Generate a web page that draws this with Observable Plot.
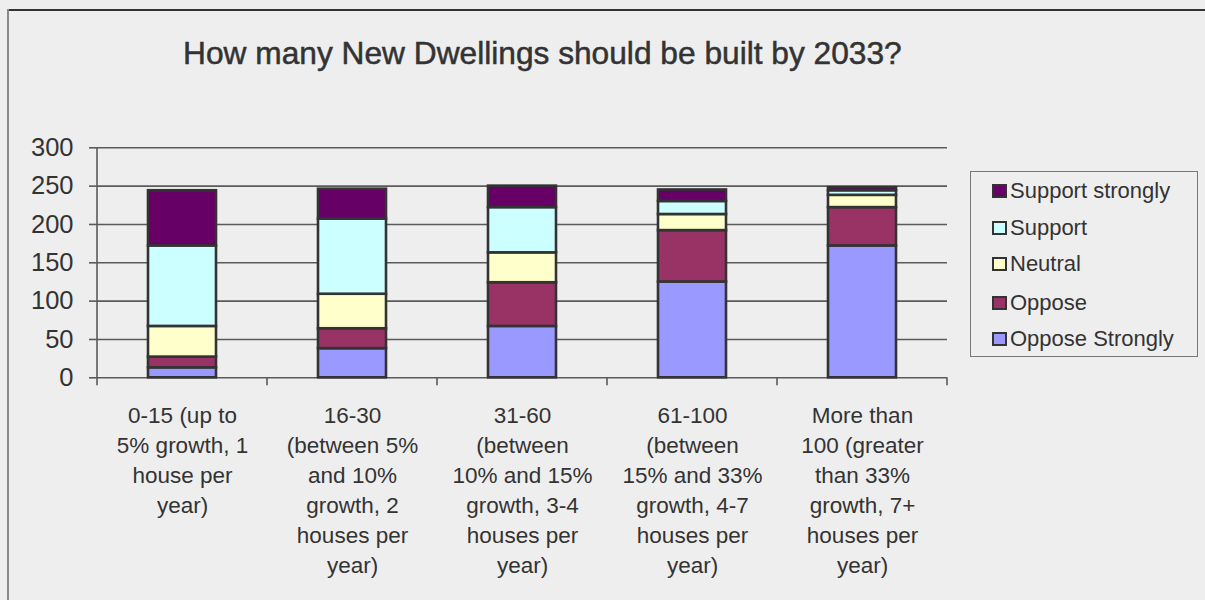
<!DOCTYPE html>
<html>
<head>
<meta charset="utf-8">
<script src="https://cdn.jsdelivr.net/npm/d3@7"></script>
<script src="https://cdn.jsdelivr.net/npm/@observablehq/plot@0.6"></script>
<style>
  html, body { margin: 0; padding: 0; background: #eeeeee; overflow: hidden; }
  #wrap { position: relative; width: 1205px; height: 600px; background: #eeeeee; overflow: hidden;
          font-family: "Liberation Sans", Arial, sans-serif; color: #333; }
  #frame { position: absolute; left: 7px; top: 9px; width: 1198px; height: 591px; overflow: hidden; pointer-events: none; }
  #frame::before { content: ""; position: absolute; left: 0; top: 0; width: 100%; height: 2px; background: #333; }
  #frame::after { content: ""; position: absolute; left: 0; top: 0; width: 2px; height: 100%; background: #8a8a8a; }
  #title { position: absolute; left: 542.4px; top: 37.5px; transform: translateX(-50%); white-space: nowrap;
           font-size: 31.7px; line-height: 31.7px; color: #333; -webkit-text-stroke: 0.5px #333; }
  #chart { position: absolute; left: 0; top: 0; width: 1205px; height: 600px; overflow: hidden; }
  #chart svg { display: block; }
  #legend { position: absolute; left: 970px; top: 170.5px; width: 228px; height: 186px; box-sizing: border-box;
            border: 1px solid #777; background: #eeeeee; }
  .row { position: absolute; left: 0; height: 22px; display: flex; align-items: center; font-size: 22px; white-space: nowrap; }
  .sw { width: 15px; height: 14px; box-sizing: border-box; border: 2px solid #333; margin-left: 21px; margin-right: 3px; }
</style>
</head>
<body>
<div id="wrap">
  <div id="frame"></div>
  <div id="chart"></div>
  <div id="title"></div>
  <div id="legend"></div>
</div>
<script>
const titleText = "How many New Dwellings should be built by 2033?";

const categories = [
  "0-15 (up to 5% growth, 1 house per year)",
  "16-30 (between 5% and 10% growth, 2 houses per year)",
  "31-60 (between 10% and 15% growth, 3-4 houses per year)",
  "61-100 (between 15% and 33% growth, 4-7 houses per year)",
  "More than 100 (greater than 33% growth, 7+ houses per year)"
];
const tickLabels = [
  "0-15 (up to\n5% growth, 1\nhouse per\nyear)",
  "16-30\n(between 5%\nand 10%\ngrowth, 2\nhouses per\nyear)",
  "31-60\n(between\n10% and 15%\ngrowth, 3-4\nhouses per\nyear)",
  "61-100\n(between\n15% and 33%\ngrowth, 4-7\nhouses per\nyear)",
  "More than\n100 (greater\nthan 33%\ngrowth, 7+\nhouses per\nyear)"
];

// series (bottom to top of each stack)
const seriesNames = ["Oppose Strongly", "Oppose", "Neutral", "Support", "Support strongly"];
const seriesColors = ["#9999ff", "#993366", "#ffffcc", "#ccffff", "#660066"];

const opposeStrongly  = [13, 38, 67, 125, 172];
const oppose          = [14, 26, 57, 67, 50];
const neutral         = [40, 45, 39, 21, 16];
const support         = [105, 98, 59, 17, 6];
const supportStrongly = [72, 39, 28, 15, 4];

const yTicks = [0, 50, 100, 150, 200, 250, 300];

const seriesValues = [opposeStrongly, oppose, neutral, support, supportStrongly];
const data = [];
seriesNames.forEach((s, si) => {
  categories.forEach((c, ci) => data.push({cat: c, series: s, value: seriesValues[si][ci]}));
});

const labelOf = new Map(categories.map((c, i) => [c, tickLabels[i]]));
const PAD_INNER = 0.6, PAD_OUTER = 0.3;

const boundaryTicks = (index, scales) => {
  const x = scales.x, y = scales.y;
  const step = x(categories[1]) - x(categories[0]);
  const gap = step * PAD_INNER / 2;
  const bounds = categories.map(c => x(c) - gap);
  bounds.push(x(categories[categories.length - 1]) + step - gap);
  const g = d3.create("svg:g").attr("stroke", "#5a5a5a").attr("stroke-width", 1.6);
  const y0 = y(0);
  bounds.forEach((bx, i) => {
    g.append("line").attr("x1", bx).attr("x2", bx)
      .attr("y1", i === 0 ? y(yTicks[yTicks.length - 1]) : y0)
      .attr("y2", y0 + 8);
  });
  return g.node();
};

const chart = Plot.plot({
  width: 1205,
  height: 600,
  marginLeft: 97,
  marginRight: 258,
  marginTop: 147.3,
  marginBottom: 222.7,
  style: {background: "transparent", color: "#333", fontFamily: "'Liberation Sans', Arial, sans-serif"},
  x: {domain: categories, paddingInner: PAD_INNER, paddingOuter: PAD_OUTER, label: null},
  y: {domain: [0, 300], label: null},
  color: {domain: seriesNames, range: seriesColors},
  marks: [
    Plot.ruleY(yTicks, {stroke: "#5a5a5a", strokeWidth: 1.6}),
    Plot.barY(data, {x: "cat", y: "value", fill: "series", order: seriesNames,
                     stroke: "#333", strokeWidth: 2.6}),
    boundaryTicks,
    Plot.axisY({ticks: yTicks, tickSize: 8, tickPadding: 16, fontSize: 25.5, stroke: "#5a5a5a", strokeWidth: 1.6, label: null}),
    Plot.axisX({tickSize: 0, tickPadding: 24.4, fontSize: 22.5, lineHeight: 1.33,
                tickFormat: d => labelOf.get(d), label: null})
  ]
});
document.getElementById("chart").appendChild(chart);
document.getElementById("title").textContent = titleText;

// legend (top to bottom reverses stack order)
const legend = document.getElementById("legend");
const rowCenters = [19.5, 56.2, 92.8, 131.2, 167.8];
[...seriesNames].reverse().forEach((s, i) => {
  const idx = seriesNames.indexOf(s);
  const row = document.createElement("div");
  row.className = "row";
  row.style.top = (rowCenters[i] - 11) + "px";
  const sw = document.createElement("div");
  sw.className = "sw";
  sw.style.background = seriesColors[idx];
  const t = document.createElement("span");
  t.textContent = s;
  row.appendChild(sw); row.appendChild(t);
  legend.appendChild(row);
});
</script>
</body>
</html>
